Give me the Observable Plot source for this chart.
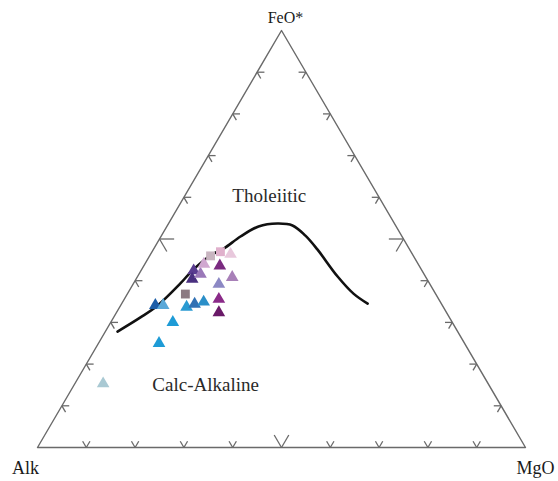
<!DOCTYPE html>
<html>
<head>
<meta charset="utf-8">
<script src="https://cdn.jsdelivr.net/npm/d3@7"></script>
<script src="https://cdn.jsdelivr.net/npm/@observablehq/plot@0.6"></script>
<style>
  html, body { margin: 0; padding: 0; background: #fff; }
  #chart { width: 558px; height: 481px; }
</style>
</head>
<body>
<div id="chart"></div>
<script>
// ---- Data (ternary percentages: Alk, FeO*, MgO) ----
const vertexNames = ["Alk", "FeO*", "MgO"];

const tickValues = [10, 20, 30, 40, 50, 60, 70, 80, 90];

// Irvine & Baragar tholeiitic / calc-alkaline boundary
const curveA = [69.7, 63.3, 58.4, 51.0, 47.0, 41.5, 38.0, 33.1, 28.2, 24.0, 21.1, 19.7, 18.9, 18.0, 16.8, 15.1];
const curveF = [27.8, 31.2, 34.1, 39.3, 42.4, 46.0, 47.7, 50.6, 53.0, 53.7, 53.2, 50.8, 47.5, 41.0, 36.9, 34.5];
const curveM = [ 2.5,  5.5,  7.6,  9.6, 10.5, 12.4, 14.3, 16.3, 18.8, 22.3, 25.6, 29.5, 33.6, 41.0, 46.3, 50.4];

// Samples
const sampleA = [58.8, 57.2, 57.2, 62.6, 78.9, 51.3, 52.6, 50.6, 48.5, 45.1, 46.7, 43.3, 39.7, 40.9, 46.8, 48.1, 45.8, 43.9, 41.6, 39.0, 37.3];
const sampleF = [34.1, 34.1, 30.0, 25.0, 15.3, 36.8, 33.7, 34.4, 34.9, 35.6, 32.4, 39.2, 40.8, 43.6, 42.4, 40.4, 41.6, 44.0, 46.0, 46.9, 46.4];
const sampleM = [ 7.1,  8.7, 12.7, 12.4,  5.8, 11.9, 13.7, 15.0, 16.6, 19.4, 21.0, 17.6, 19.5, 15.6, 10.8, 11.5, 12.6, 12.1, 12.5, 14.0, 16.4];
const sampleShape = ["triangle","triangle","triangle","triangle","triangle","square","triangle","triangle","triangle","triangle","triangle","triangle","triangle","triangle","triangle","triangle","triangle","triangle","square","square","triangle"];
const sampleColor = ["#1d5ea8","#5aa8d8","#1e9bd6","#1e9bd6","#a9c9d3","#8c7a82","#2a9ad2","#3171b4","#2a8ec8","#8a2a88","#6a1a68","#8c88c4","#a880b8","#7a2a80","#5a3c90","#4a3080","#9a78b8","#d0a8d0","#c8b4c0","#e0b0cc","#e8c8dc"];

const regionNames = ["Tholeiitic", "Calc-Alkaline"];
const regionA = [22.3, 58.0];
const regionF = [60.4, 15.1];
const regionM = [17.3, 26.9];

// ---- Ternary projection ----
function tx(a, f, m) { const s = a + f + m; return (m + f / 2) / s; }
function ty(a, f, m) { const s = a + f + m; return f / s; }

const vertices = [[100, 0, 0], [0, 100, 0], [0, 0, 100]];
const outline = [...vertices, vertices[0]].map(([a, f, m]) => ({a, f, m}));

const curve = curveA.map((a, i) => ({a, f: curveF[i], m: curveM[i]}));
const samples = sampleA.map((a, i) => ({a, f: sampleF[i], m: sampleM[i], shape: sampleShape[i], color: sampleColor[i]}));
const regions = regionNames.map((name, i) => ({name, a: regionA[i], f: regionF[i], m: regionM[i]}));

// Tick segments: two short arms per tick, parallel to the other two edges
const segs = [];
for (const v of tickValues) {
  const d = v === 50 ? 3.0 : 1.5;
  const p = v;
  // bottom edge (F = 0)
  segs.push({p0: [p, 0, 100 - p], p1: [p - d, d, 100 - p]});
  segs.push({p0: [p, 0, 100 - p], p1: [p, d, 100 - p - d]});
  // left edge (M = 0)
  segs.push({p0: [p, 100 - p, 0], p1: [p - d, 100 - p, d]});
  segs.push({p0: [p, 100 - p, 0], p1: [p, 100 - p - d, d]});
  // right edge (A = 0)
  segs.push({p0: [0, p, 100 - p], p1: [d, p, 100 - p - d]});
  segs.push({p0: [0, p, 100 - p], p1: [d, p - d, 100 - p]});
}

const vlabels = vertices.map(([a, f, m], i) => ({a, f, m, name: vertexNames[i]}));

const serif = "Liberation Serif, DejaVu Serif, serif";

const chart = Plot.plot({
  width: 558,
  height: 481,
  margin: 0,
  style: {background: "#fff", overflow: "visible"},
  x: {domain: [0, 1], range: [37, 525], axis: null},
  y: {domain: [0, 1], range: [447, 30], axis: null},
  marks: [
    Plot.line(outline, {x: d => tx(d.a, d.f, d.m), y: d => ty(d.a, d.f, d.m), stroke: "#6a6a6a", strokeWidth: 1.4}),
    Plot.link(segs, {
      x1: d => tx(...d.p0), y1: d => ty(...d.p0),
      x2: d => tx(...d.p1), y2: d => ty(...d.p1),
      stroke: "#6a6a6a", strokeWidth: 1.3
    }),
    Plot.line(curve, {x: d => tx(d.a, d.f, d.m), y: d => ty(d.a, d.f, d.m), curve: "catmull-rom", stroke: "#111", strokeWidth: 2.6}),
    Plot.dot(samples.filter(d => d.shape === "triangle"), {x: d => tx(d.a, d.f, d.m), y: d => ty(d.a, d.f, d.m), symbol: "triangle", r: 4.7, fill: d => d.color, stroke: "none"}),
    Plot.dot(samples.filter(d => d.shape === "square"), {x: d => tx(d.a, d.f, d.m), y: d => ty(d.a, d.f, d.m), symbol: "square", r: 5.0, fill: d => d.color, stroke: "none"}),
    Plot.text(regions, {x: d => tx(d.a, d.f, d.m), y: d => ty(d.a, d.f, d.m), text: "name", fontFamily: serif, fontSize: 19, fill: "#2a2a2a"}),
    Plot.text(vlabels.filter(d => d.name === "Alk"), {x: d => tx(d.a, d.f, d.m), y: d => ty(d.a, d.f, d.m), text: "name", fontFamily: serif, fontSize: 18, fill: "#1a1a1a", dx: -12, dy: 21}),
    Plot.text(vlabels.filter(d => d.name === "FeO*"), {x: d => tx(d.a, d.f, d.m), y: d => ty(d.a, d.f, d.m), text: "name", fontFamily: serif, fontSize: 16, fill: "#1a1a1a", dx: 4, dy: -13}),
    Plot.text(vlabels.filter(d => d.name === "MgO"), {x: d => tx(d.a, d.f, d.m), y: d => ty(d.a, d.f, d.m), text: "name", fontFamily: serif, fontSize: 18, fill: "#1a1a1a", textAnchor: "start", dx: -9, dy: 21})
  ]
});
document.getElementById("chart").appendChild(chart);
</script>
</body>
</html>
